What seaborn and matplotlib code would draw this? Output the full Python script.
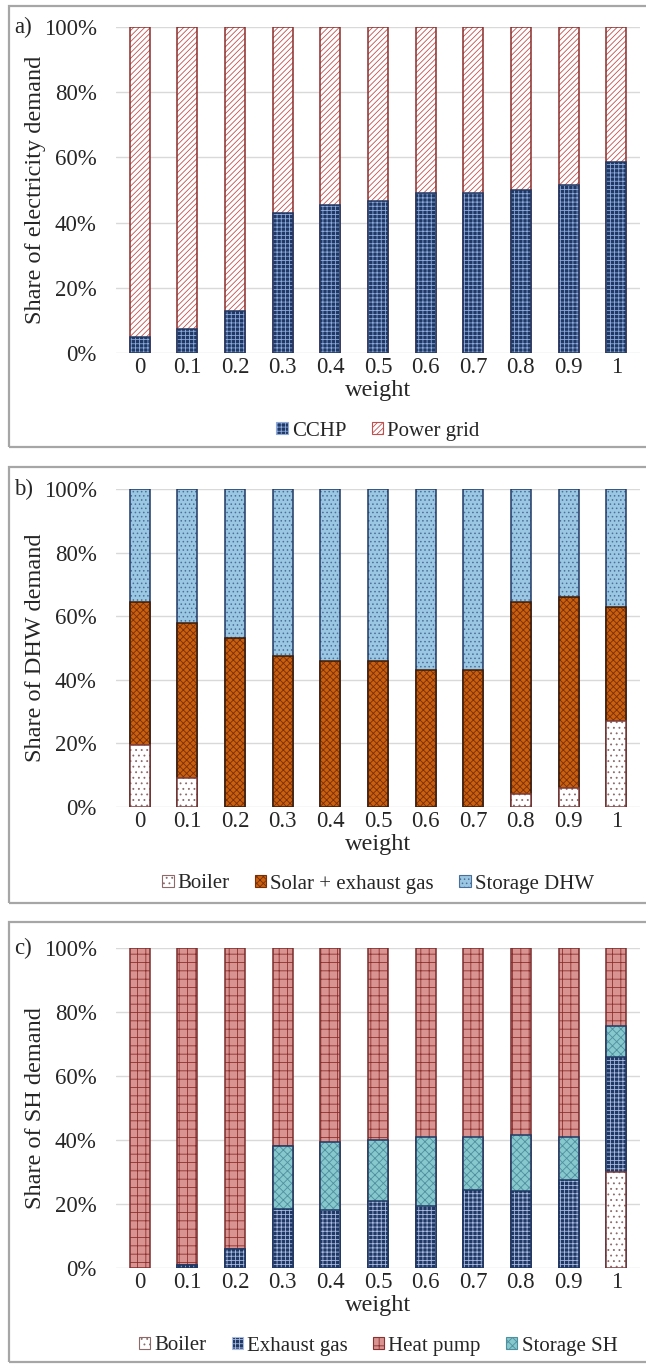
import numpy as np
import pandas as pd
import matplotlib
matplotlib.use("Agg")
import matplotlib.pyplot as plt
from matplotlib.patches import Patch, Rectangle
import seaborn as sns

# ---- data (shares in %) ----
weights = ["0", "0.1", "0.2", "0.3", "0.4", "0.5", "0.6", "0.7", "0.8", "0.9", "1"]

# a) electricity
elec_cchp = [5, 7.5, 13, 43, 45.5, 46.5, 49, 49, 50, 51.5, 58.5]
elec_grid = [95, 92.5, 87, 57, 54.5, 53.5, 51, 51, 50, 48.5, 41.5]

# b) domestic hot water
dhw_boiler = [19.5, 9, 0, 0, 0, 0, 0, 0, 4, 6, 27]
dhw_solar = [45, 49, 53, 47.5, 46, 46, 43, 43, 60.5, 60, 36]
dhw_storage = [35.5, 42, 47, 52.5, 54, 54, 57, 57, 35.5, 34, 37]

# c) space heating
sh_boiler = [0, 0, 0, 0, 0, 0, 0, 0, 0, 0, 30]
sh_exhaust = [0, 1, 6, 18.5, 18, 21, 19.5, 24.5, 24, 27.5, 36]
sh_storage = [0, 0, 0, 19.5, 21.5, 19, 21.5, 16.5, 17.5, 13.5, 9.5]
sh_heatpump = [100, 99, 94, 62, 60.5, 60, 59, 59, 58.5, 59, 24.5]

# ---- styles: (face, hatch, hatch colour, border) ----
STY = {
    "CCHP": ("#1f3864", "++++", "#8ea9db", "#1f3864"),
    "Power grid": ("#ffffff", "//////", "#c0504d", "#8b2e2b"),
    "Boiler": ("#ffffff", "...", "#8c6a6a", "#7b3b3b"),
    "Solar + exhaust gas": ("#c9600f", "xxxxx", "#7a2e05", "#3b1a08"),
    "Storage DHW": ("#9cc7e2", "....", "#4a6f9a", "#1f3864"),
    "Exhaust gas": ("#1f3864", "++++", "#a9bce0", "#1f3864"),
    "Heat pump": ("#d99391", "++", "#8b3030", "#7b2c2c"),
    "Storage SH": ("#86c8cb", "xxxx", "#4f8fa0", "#1f3864"),
}

sns.set_theme(style="white")
plt.rcParams["font.family"] = ["Liberation Serif", "DejaVu Serif"]
plt.rcParams["hatch.linewidth"] = 0.6

W, H = 646, 1364
fig = plt.figure(figsize=(W / 100, H / 100), dpi=100)

BAR_W = 0.42
TICK_FS = 16.5
LABEL_FS = 17.5
LEG_FS = 15


def px_axes(top, bottom, left=116, right=640):
    return fig.add_axes([left / W, (H - bottom) / H, (right - left) / W, (bottom - top) / H])


def stacked(ax, series):
    """series: list of (name, values) bottom to top."""
    cums = []
    run = np.zeros(len(weights))
    for name, vals in series:
        run = run + np.asarray(vals, dtype=float)
        cums.append((name, run.copy()))
    # draw tallest cumulative first so lower segments sit on top
    for name, cum in reversed(cums):
        face, hatch, hcol, edge = STY[name]
        df = pd.DataFrame({"weight": weights, "share": cum})
        n0 = len(ax.patches)
        sns.barplot(data=df, x="weight", y="share", order=weights, color=face,
                    width=BAR_W, ax=ax, saturation=1, errorbar=None)
        for p in ax.patches[n0:]:
            p.set_facecolor(face)
            p.set_hatch(hatch)
            p.set_edgecolor(hcol)
            p.set_linewidth(0)
        n1 = len(ax.patches)
        sns.barplot(data=df, x="weight", y="share", order=weights, color=edge,
                    width=BAR_W, ax=ax, fill=False, errorbar=None)
        for p in ax.patches[n1:]:
            p.set_facecolor("none")
            p.set_edgecolor(edge)
            p.set_linewidth(1.1)
            if p.get_height() <= 0:
                p.set_visible(False)


def style_axis(ax, ylabel, tag, legend_names, legend_y):
    ax.set_ylim(0, 100)
    ax.set_xlim(-0.5, len(weights) - 0.5)
    ax.set_yticks(range(0, 101, 20))
    ax.set_yticklabels([f"{v}%" for v in range(0, 101, 20)], fontsize=TICK_FS)
    ax.set_xticks(range(len(weights)))
    ax.set_xticklabels(weights, fontsize=TICK_FS)
    ax.tick_params(axis="both", length=0, pad=3)
    ax.tick_params(axis="y", pad=14)
    for s in ax.spines.values():
        s.set_visible(False)
    ax.yaxis.grid(True, color="#d9d9d9", linewidth=1.0)
    ax.set_axisbelow(True)
    ax.set_xlabel("weight", fontsize=LABEL_FS, labelpad=1)
    ax.set_ylabel(ylabel, fontsize=LABEL_FS)
    ax.yaxis.set_label_coords(-0.133, 0.5)
    ax.text(-0.195, 1.0, tag, transform=ax.transAxes, fontsize=TICK_FS,
            ha="left", va="center")
    handles = []
    for nm in legend_names:
        face, hatch, hcol, edge = STY[nm]
        handles.append(Patch(facecolor=face, hatch=hatch, edgecolor=hcol, linewidth=0.8, label=nm))
    fig.legend(handles=handles, loc="center",
               bbox_to_anchor=(378 / W, (H - legend_y) / H), ncol=len(handles),
               frameon=False, fontsize=LEG_FS, handlelength=0.55, handleheight=0.55,
               handletextpad=0.2, columnspacing=1.2, borderaxespad=0)


# frames around each panel
for top, bottom in [(6, 447), (467, 903), (922, 1362)]:
    fig.add_artist(Rectangle((9 / W, (H - bottom) / H), 700 / W, (bottom - top) / H,
                             transform=fig.transFigure, fill=False,
                             edgecolor="#a6a6a6", linewidth=1.6))

# a) electricity
ax_a = px_axes(27, 353)
stacked(ax_a, [("CCHP", elec_cchp), ("Power grid", elec_grid)])
style_axis(ax_a, "Share of electricity demand", "a)", ["CCHP", "Power grid"], 431)

# b) DHW
ax_b = px_axes(489, 807)
stacked(ax_b, [("Boiler", dhw_boiler), ("Solar + exhaust gas", dhw_solar),
               ("Storage DHW", dhw_storage)])
style_axis(ax_b, "Share of DHW demand", "b)",
           ["Boiler", "Solar + exhaust gas", "Storage DHW"], 884)

# c) SH
ax_c = px_axes(948, 1268)
stacked(ax_c, [("Boiler", sh_boiler), ("Exhaust gas", sh_exhaust),
               ("Storage SH", sh_storage), ("Heat pump", sh_heatpump)])
style_axis(ax_c, "Share of SH demand", "c)",
           ["Boiler", "Exhaust gas", "Heat pump", "Storage SH"], 1346)

fig.savefig("out.png", dpi=100)
